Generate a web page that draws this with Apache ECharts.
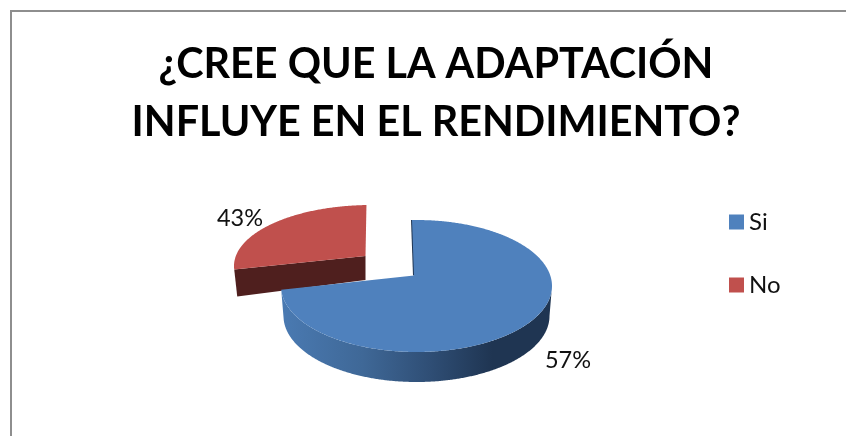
<!DOCTYPE html>
<html>
<head>
<meta charset="utf-8">
<style>
  html, body { margin: 0; padding: 0; background: #fff; }
  #chart { width: 846px; height: 436px; }
</style>
<script src="https://cdn.jsdelivr.net/npm/echarts@6/dist/echarts.min.js"></script>
</head>
<body>
<div id="chart"></div>
<script>
var titleText = '¿CREE QUE LA ADAPTACIÓN\nINFLUYE EN EL RENDIMIENTO?';
var categories = ['Si', 'No'];
// area of each slice as drawn in the picture, it does not follow the printed labels
var drawnShares = [74.6, 25.4];
var printedLabels = ['57%', '43%'];
var startAngle = -1.9;

var sliceColors = ['#4F81BD', '#C0504D'];
var wallColors = ['#1F3552', '#4F1F1E'];
// ellipse, apex and label of each slice (the "No" slice is pulled out)
var frames = [
	{ cx: 416.5, cy: 286, rx: 135.5, ry: 66, ax: 414, ay: 275.5, dx: 0, dy: 30, shrink: 2.5, lx: 568, ly: 360 },
	{ cx: 371, cy: 266, rx: 137, ry: 61, ax: 365.5, ay: 256, dx: 3, dy: 27, shrink: 0, lx: 240, ly: 218 }
];

function ellipsePoint(f, deg, grow) {
	var t = deg * Math.PI / 180;
	return [f.cx + (f.rx - (grow || 0)) * Math.sin(t), f.cy - f.ry * Math.cos(t)];
}

function arcPoints(f, from, to) {
	var pts = [];
	var steps = Math.ceil(Math.abs(to - from) * 2);
	for (var i = 0; i <= steps; i++) {
		pts.push(ellipsePoint(f, from + (to - from) * i / steps));
	}
	return pts;
}

function sliceAngles(index) {
	var total = 0, before = 0;
	for (var i = 0; i < drawnShares.length; i++) {
		total += drawnShares[i];
		if (i < index) before += drawnShares[i];
	}
	return [startAngle + before / total * 360, startAngle + (before + drawnShares[index]) / total * 360];
}

function renderBlue(f, angles, api) {
	var top = arcPoints(f, angles[0], angles[1]);
	// outer wall: bottom arc from left to right, then back along the top edge
	var wall = [];
	for (var t = angles[1]; t >= 90; t -= 0.5) {
		var p = ellipsePoint(f, t, f.shrink);
		wall.push([p[0], p[1] + f.dy]);
	}
	for (var k = 90; k <= angles[1]; k += 0.5) {
		wall.push(ellipsePoint(f, k));
	}
	return [
		{
			type: 'polygon',
			shape: { points: wall },
			style: {
				fill: new echarts.graphic.LinearGradient(0, 0, 1, 0, [
					{ offset: 0, color: '#4A7AB2' },
					{ offset: 0.3, color: '#3F6897' },
					{ offset: 0.55, color: '#2F4E75' },
					{ offset: 0.78, color: '#1F3552' },
					{ offset: 1, color: '#1F3552' }
				])
			}
		},
		{
			type: 'line',
			shape: { x1: top[0][0], y1: top[0][1], x2: f.ax, y2: f.ay },
			style: { stroke: wallColors[0], lineWidth: 2 }
		},
		{
			type: 'polygon',
			shape: { points: [[f.ax, f.ay]].concat(top) },
			style: { fill: api.visual('color') }
		}
	];
}

function renderRed(f, angles, api) {
	var top = arcPoints(f, angles[0], angles[1]);
	var outer = top[0];
	return [
		{
			type: 'polygon',
			shape: {
				points: [
					[f.ax, f.ay],
					outer,
					[outer[0] + f.dx, outer[1] + f.dy],
					[f.ax, f.ay + f.dy - 3]
				]
			},
			style: { fill: wallColors[1] }
		},
		{
			type: 'polygon',
			shape: { points: [[f.ax, f.ay]].concat(top) },
			style: { fill: api.visual('color') }
		}
	];
}

function makeRender(index) {
	return function (params, api) {
		var f = frames[index];
		var angles = sliceAngles(index);
		var children = index === 0 ? renderBlue(f, angles, api) : renderRed(f, angles, api);
		children.push({
			type: 'text',
			style: {
				x: f.lx,
				y: f.ly,
				text: printedLabels[index],
				fill: '#111',
				font: '23.5px Lato',
				align: 'center',
				verticalAlign: 'middle'
			}
		});
		return { type: 'group', children: children };
	};
}

var myChart = echarts.init(document.getElementById('chart'), null, { renderer: 'canvas' });
var option = {
	animation: false,
	backgroundColor: '#fff',
	title: {
		text: titleText,
		left: 431,
		top: 31,
		textAlign: 'center',
		textStyle: { fontFamily: 'Lato', fontWeight: 'bold', fontSize: 41.3, lineHeight: 58, color: '#000' }
	},
	legend: {
		orient: 'vertical',
		left: 729,
		top: 210,
		padding: 0,
		data: categories,
		icon: 'rect',
		itemWidth: 15,
		itemHeight: 15,
		itemGap: 39,
		textStyle: { fontFamily: 'Lato', fontSize: 24, color: '#111' }
	},
	graphic: [{
		type: 'polyline',
		shape: { points: [[846, 11], [11, 11], [11, 436]] },
		style: { stroke: '#8E8E8E', lineWidth: 2, fill: null },
		silent: true
	}],
	series: [
		{ type: 'custom', name: categories[1], coordinateSystem: 'none', z: 1, color: sliceColors[1], data: [[drawnShares[1]]], renderItem: makeRender(1), silent: true },
		{ type: 'custom', name: categories[0], coordinateSystem: 'none', z: 2, color: sliceColors[0], data: [[drawnShares[0]]], renderItem: makeRender(0), silent: true }
	]
};
myChart.setOption(option);
</script>
</body>
</html>
